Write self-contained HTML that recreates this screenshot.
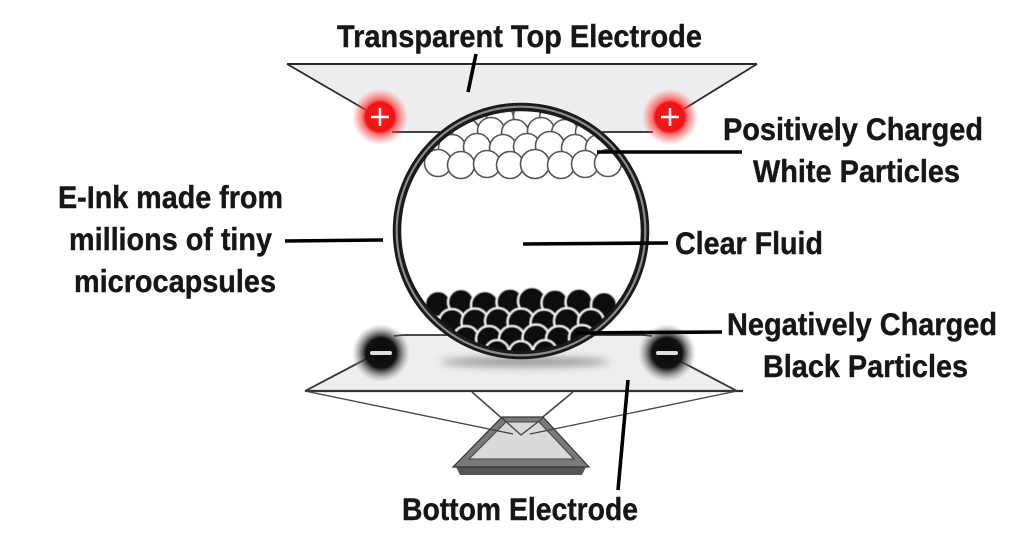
<!DOCTYPE html>
<html><head><meta charset="utf-8"><style>
html,body{margin:0;padding:0;background:#fff;}
svg{display:block;}
text{font-family:"Liberation Sans Narrow","Liberation Sans",Arial,sans-serif;font-weight:bold;font-size:31.5px;fill:#161616;stroke:#161616;stroke-width:0.4px;}
</style></head><body>
<svg width="1024" height="536" viewBox="0 0 1024 536" xmlns="http://www.w3.org/2000/svg">
<defs>
  <radialGradient id="redg" cx="50%" cy="50%" r="50%">
    <stop offset="0" stop-color="#ff1a1a"/>
    <stop offset="0.52" stop-color="#ee1414"/>
    <stop offset="0.62" stop-color="#ff3030" stop-opacity="0.7"/>
    <stop offset="1" stop-color="#ff5050" stop-opacity="0"/>
  </radialGradient>
  <radialGradient id="blkg" cx="50%" cy="50%" r="50%">
    <stop offset="0" stop-color="#0a0a0a"/>
    <stop offset="0.52" stop-color="#111"/>
    <stop offset="0.65" stop-color="#333" stop-opacity="0.75"/>
    <stop offset="1" stop-color="#888" stop-opacity="0"/>
  </radialGradient>
  <filter id="blur" x="-50%" y="-200%" width="200%" height="500%"><feGaussianBlur stdDeviation="4"/></filter>
  <filter id="soft"><feGaussianBlur stdDeviation="0.6"/></filter>
  <clipPath id="inner"><circle cx="521" cy="231" r="122"/></clipPath>
</defs>

<!-- bottom electrode plate -->
<polygon points="403,335 643,335 737,391 305,391" fill="#eeeeee"/>
<polyline points="305,391 366,359" fill="none" stroke="#333" stroke-width="1.8"/>
<polyline points="394,336 403,335 643,335 652,336" fill="none" stroke="#333" stroke-width="1.8"/>
<polyline points="737,391 676,359" fill="none" stroke="#333" stroke-width="1.8"/>
<line x1="305" y1="391" x2="743" y2="391" stroke="#333" stroke-width="2.2"/>

<!-- lower lines / stand -->
<line x1="472" y1="392" x2="521" y2="435" stroke="#444" stroke-width="1.5"/>
<line x1="573" y1="392" x2="521" y2="435" stroke="#444" stroke-width="1.5"/>
<polygon points="456,467 586,467 582,475 460,475" fill="#555"/>
<polygon points="502,417 543,417 589,467 453,467" fill="#7a7a7a" stroke="#333" stroke-width="1.2"/>
<polygon points="506,422 539,422 574,459 469,459" fill="#d9d9d9" stroke="#444" stroke-width="1"/>
<line x1="305" y1="391" x2="513" y2="434" stroke="#444" stroke-width="1.3"/>
<line x1="737" y1="391" x2="530" y2="434" stroke="#444" stroke-width="1.3"/>
<line x1="502" y1="418" x2="521" y2="435" stroke="#444" stroke-width="1.3"/>
<line x1="543" y1="418" x2="521" y2="435" stroke="#444" stroke-width="1.3"/>

<!-- shadow -->
<ellipse cx="525" cy="362" rx="85" ry="5" fill="#9a9a9a" filter="url(#blur)"/>

<!-- capsule fill -->
<circle cx="521" cy="231" r="126" fill="#fff"/>

<!-- top electrode -->
<polygon points="287,64 757,64 670,117 653,132 393,132 380,117" fill="#ededed"/>
<polyline points="287,64 757,64" fill="none" stroke="#2a2a2a" stroke-width="2"/>
<line x1="287" y1="64" x2="366" y2="110" stroke="#2a2a2a" stroke-width="1.8"/>
<line x1="757" y1="64" x2="684" y2="109" stroke="#2a2a2a" stroke-width="1.8"/>
<line x1="392" y1="132" x2="440" y2="132" stroke="#2a2a2a" stroke-width="1.8"/>
<line x1="602" y1="132" x2="653" y2="132" stroke="#2a2a2a" stroke-width="1.8"/>

<!-- white particles -->
<g clip-path="url(#inner)" fill="#fff" stroke="#555" stroke-width="1.6">
  <circle cx="500" cy="118" r="13.5"/><circle cx="527" cy="116" r="13.5"/><circle cx="553" cy="118" r="13.5"/>
  <circle cx="466" cy="132" r="13.5"/><circle cx="491" cy="131" r="13.5"/><circle cx="515" cy="133" r="13.5"/><circle cx="541" cy="131" r="13.5"/><circle cx="565" cy="133" r="13.5"/><circle cx="589" cy="132" r="13.5"/>
  <circle cx="452" cy="148" r="13.5"/><circle cx="477" cy="147" r="13.5"/><circle cx="503" cy="148" r="13.5"/><circle cx="527" cy="147" r="13.5"/><circle cx="550" cy="146" r="14.5"/><circle cx="575" cy="148" r="13.5"/><circle cx="599" cy="148" r="13.5"/>
  <circle cx="438" cy="163" r="13.5"/><circle cx="461" cy="165" r="13.5"/><circle cx="487" cy="164" r="13.5"/><circle cx="510" cy="165" r="13.5"/><circle cx="535" cy="164" r="14.5"/><circle cx="561" cy="165" r="13.5"/><circle cx="585" cy="164" r="13.5"/><circle cx="608" cy="163" r="13.5"/>
</g>

<!-- black particles -->
<g clip-path="url(#inner)" fill="#0d0d0d" stroke="#fff" stroke-width="1.8" filter="url(#soft)">
  <circle cx="438" cy="304" r="13"/><circle cx="461" cy="302" r="13"/><circle cx="485" cy="305" r="14"/><circle cx="510" cy="302" r="13.5"/><circle cx="532" cy="301" r="14"/><circle cx="555" cy="303" r="13.5"/><circle cx="579" cy="302" r="13.5"/><circle cx="604" cy="305" r="13"/>
  <circle cx="452" cy="322" r="13"/><circle cx="475" cy="322" r="13.5"/><circle cx="498" cy="321" r="13"/><circle cx="521" cy="322" r="13.5"/><circle cx="544" cy="323" r="13.5"/><circle cx="567" cy="321" r="13"/><circle cx="591" cy="322" r="13"/>
  <circle cx="466" cy="339" r="13"/><circle cx="489" cy="339" r="13"/><circle cx="512" cy="339" r="13"/><circle cx="536" cy="338" r="13.5"/><circle cx="559" cy="339" r="13"/><circle cx="582" cy="338" r="13"/>
  <circle cx="497" cy="352" r="12"/><circle cx="521" cy="353" r="12"/><circle cx="545" cy="352" r="12"/>
</g>

<!-- capsule ring -->
<circle cx="521" cy="231" r="124" fill="none" stroke="#1a1a1a" stroke-width="8.5"/>
<circle cx="521" cy="231" r="124.3" fill="none" stroke="#8a8a8a" stroke-width="2.2"/>

<!-- electrodes -->
<circle cx="380" cy="117" r="28" fill="url(#redg)"/>
<line x1="371" y1="117" x2="389" y2="117" stroke="#fff" stroke-width="2.5"/>
<line x1="380" y1="108" x2="380" y2="126" stroke="#fff" stroke-width="2.5"/>
<circle cx="670" cy="117" r="28" fill="url(#redg)"/>
<line x1="661" y1="117" x2="679" y2="117" stroke="#fff" stroke-width="2.5"/>
<line x1="670" y1="108" x2="670" y2="126" stroke="#fff" stroke-width="2.5"/>

<circle cx="381" cy="353" r="29" fill="url(#blkg)"/>
<line x1="372" y1="353" x2="390" y2="353" stroke="#ddd" stroke-width="4" stroke-linecap="round"/>
<circle cx="667" cy="353" r="29" fill="url(#blkg)"/>
<line x1="658" y1="353" x2="676" y2="353" stroke="#ddd" stroke-width="4" stroke-linecap="round"/>

<!-- connectors -->
<g stroke="#000" stroke-width="3.6" stroke-linecap="butt">
  <line x1="476" y1="54" x2="468" y2="92"/>
  <line x1="285" y1="241" x2="383" y2="240"/>
  <line x1="597" y1="152" x2="742" y2="152"/>
  <line x1="523" y1="244" x2="668" y2="243"/>
  <line x1="576" y1="333" x2="722" y2="332"/>
  <line x1="628" y1="380" x2="618" y2="490"/>
</g>

<!-- labels -->
<text x="337" y="47" textLength="365" lengthAdjust="spacingAndGlyphs">Transparent Top Electrode</text>
<text x="58" y="208" textLength="225" lengthAdjust="spacingAndGlyphs">E-Ink made from</text>
<text x="69" y="250" textLength="203" lengthAdjust="spacingAndGlyphs">millions of tiny</text>
<text x="74" y="292" textLength="202" lengthAdjust="spacingAndGlyphs">microcapsules</text>
<text x="723" y="140" textLength="260" lengthAdjust="spacingAndGlyphs">Positively Charged</text>
<text x="753" y="182" textLength="207" lengthAdjust="spacingAndGlyphs">White Particles</text>
<text x="675" y="254" textLength="148" lengthAdjust="spacingAndGlyphs">Clear Fluid</text>
<text x="727" y="335" textLength="270" lengthAdjust="spacingAndGlyphs">Negatively Charged</text>
<text x="763" y="377" textLength="205" lengthAdjust="spacingAndGlyphs">Black Particles</text>
<text x="402" y="520" textLength="236" lengthAdjust="spacingAndGlyphs">Bottom Electrode</text>
</svg>
</body></html>
